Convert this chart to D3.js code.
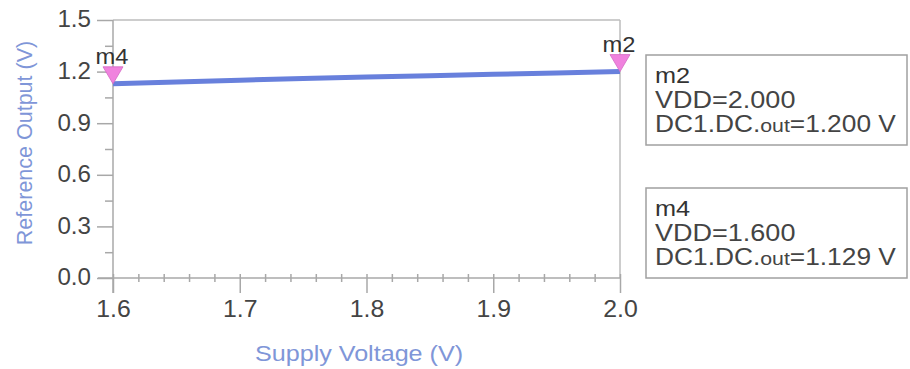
<!DOCTYPE html>
<html>
<head>
<meta charset="utf-8">
<script src="https://cdn.jsdelivr.net/npm/d3@7"></script>
<style>
body { margin: 0; background: #fff; }
svg text { font-family: "Liberation Sans", Arial, sans-serif; }
</style>
</head>
<body>
<script>
// sweep data
var vdd = [1.60, 1.65, 1.70, 1.75, 1.80, 1.85, 1.90, 1.95, 2.00];
var vout = [1.129, 1.140, 1.150, 1.160, 1.168, 1.176, 1.184, 1.192, 1.200];

var xTicks = [1.6, 1.7, 1.8, 1.9, 2.0];
var yTicks = [0.0, 0.3, 0.6, 0.9, 1.2, 1.5];

// markers m2 / m4
var markerNames = ["m2", "m4"];
var markerVdd = [2.000, 1.600];
var markerOut = [1.200, 1.129];

var width = 910, height = 369;

var svg = d3.select("body").append("svg")
  .attr("width", width)
  .attr("height", height);

var x = d3.scaleLinear().domain([1.6, 2.0]).range([113, 620]);
var y = d3.scaleLinear().domain([0, 1.5]).range([278, 20]);

var gridCol = "#a8a8a8";
var labelCol = "#444";

// frame: top + right
svg.append("line")
  .attr("x1", x(1.6)).attr("x2", x(2.0))
  .attr("y1", y(1.5)).attr("y2", y(1.5))
  .attr("stroke", "#bdbdbd").attr("stroke-width", 1.5);
svg.append("line")
  .attr("x1", x(2.0)).attr("x2", x(2.0))
  .attr("y1", y(1.5)).attr("y2", y(0))
  .attr("stroke", "#bdbdbd").attr("stroke-width", 1.5);

// y axis minor
var yMinor = d3.range(0.15, 1.5, 0.3);
svg.append("g")
  .attr("transform", "translate(" + x(1.6) + ",0)")
  .call(d3.axisLeft(y).tickValues(yMinor).tickSize(8).tickFormat(""))
  .call(function(g) { g.select(".domain").remove(); })
  .selectAll("line").attr("stroke", gridCol).attr("stroke-width", 1.5);

// y axis
var yAxis = svg.append("g")
  .attr("transform", "translate(" + x(1.6) + ",0)")
  .call(d3.axisLeft(y).tickValues(yTicks).tickSize(16).tickPadding(5)
    .tickFormat(d3.format(".1f")));
yAxis.select(".domain")
  .attr("d", "M0," + y(1.5) + "V" + (y(0) + 15))
  .attr("stroke", gridCol).attr("stroke-width", 1.5);
yAxis.selectAll(".tick line").attr("stroke", gridCol).attr("stroke-width", 1.5);
yAxis.selectAll(".tick text")
  .attr("font-size", 23).attr("fill", labelCol)
  .attr("transform", "scale(1.05,1)")
  .attr("dy", "0.3em");

// x axis minor ticks
var xMinor = d3.range(1.6, 2.0001, 0.02).filter(function(v) {
  return Math.abs(v * 10 - Math.round(v * 10)) > 0.01;
});
svg.append("g")
  .attr("transform", "translate(0," + (y(0) - 4) + ")")
  .call(d3.axisBottom(x).tickValues(xMinor).tickSize(8).tickFormat(""))
  .call(function(g) { g.select(".domain").remove(); })
  .selectAll("line").attr("stroke", gridCol).attr("stroke-width", 1.5);

// x axis
var xAxis = svg.append("g")
  .attr("transform", "translate(0," + y(0) + ")")
  .call(d3.axisBottom(x).tickValues(xTicks).tickSize(15).tickPadding(8)
    .tickFormat(d3.format(".1f")));
xAxis.select(".domain")
  .attr("d", "M" + (x(1.6) - 15) + ",0H" + x(2.0))
  .attr("stroke", gridCol).attr("stroke-width", 1.5);
xAxis.selectAll(".tick line")
  .attr("y1", -4)
  .attr("stroke", gridCol).attr("stroke-width", 1.5);
xAxis.selectAll(".tick text")
  .attr("font-size", 23).attr("fill", labelCol)
  .attr("transform", "scale(1.08,1)");

// axis titles
svg.append("text")
  .attr("transform", "translate(32,143) rotate(-90)")
  .attr("text-anchor", "middle")
  .attr("font-size", 21.5)
  .attr("fill", "#7f96d8")
  .text("Reference Output (V)");

svg.append("text")
  .attr("transform", "translate(359,361) scale(1.17,1)")
  .attr("text-anchor", "middle")
  .attr("font-size", 21.5)
  .attr("fill", "#7f96d8")
  .text("Supply Voltage (V)");

// data line
var line = d3.line()
  .x(function(d, i) { return x(vdd[i]); })
  .y(function(d) { return y(d); });

svg.append("path")
  .datum(vout)
  .attr("d", line)
  .attr("fill", "none")
  .attr("stroke", "#6880dc")
  .attr("stroke-width", 5)
  .attr("stroke-linejoin", "round");

// marker triangles + names
markerNames.forEach(function(name, i) {
  var px = x(markerVdd[i]), py = y(markerOut[i]);
  svg.append("path")
    .attr("d", "M" + (px - 10) + "," + (py - 17) + "L" + (px + 10) + "," + (py - 17) + "L" + px + "," + py + "Z")
    .attr("fill", "#f082de")
    .attr("stroke", "#d468c4")
    .attr("stroke-width", 0.8);
  svg.append("text")
    .attr("transform", "translate(" + (px - 1) + "," + (py - 20) + ") scale(1.1,1)")
    .attr("text-anchor", "middle")
    .attr("font-size", 21.5)
    .attr("fill", "#333")
    .text(name);
});

// marker readout boxes
var boxTops = [55, 188];
markerNames.forEach(function(name, i) {
  var g = svg.append("g").attr("transform", "translate(646," + boxTops[i] + ")");
  g.append("rect")
    .attr("x", 0).attr("y", 0)
    .attr("width", 261).attr("height", 90)
    .attr("fill", "#fff")
    .attr("stroke", "#a0a0a0").attr("stroke-width", 1.5);
  var lines = [name, "VDD=" + d3.format(".3f")(markerVdd[i])];
  lines.forEach(function(t, j) {
    g.append("text")
      .attr("transform", "translate(9," + (28 + j * 25) + ") scale(1.15,1)")
      .attr("font-size", j == 0 ? 22 : 23.5)
      .attr("fill", j == 0 ? "#333" : labelCol)
      .text(t);
  });
  var t3 = g.append("text")
    .attr("transform", "translate(9,77) scale(1.12,1)")
    .attr("font-size", 23.5)
    .attr("fill", labelCol);
  t3.append("tspan").text("DC1.DC.");
  t3.append("tspan").attr("font-size", 19).text("out");
  t3.append("tspan").text("=" + d3.format(".3f")(markerOut[i]) + " V");
});
</script>
</body>
</html>
